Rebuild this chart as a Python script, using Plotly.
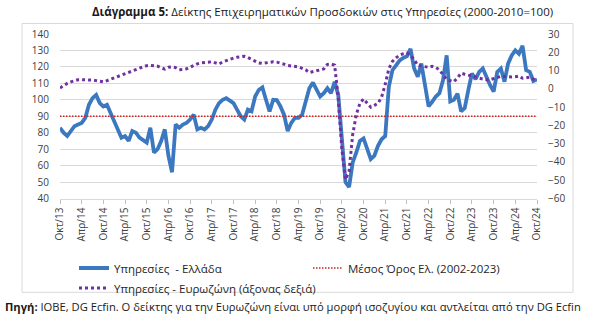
import plotly.graph_objects as go

# ---- data ----
month_abbr = ["Ιαν", "Φεβ", "Μαρ", "Απρ", "Μαϊ", "Ιουν", "Ιουλ", "Αυγ", "Σεπ", "Οκτ", "Νοε", "Δεκ"]
start_year, start_month = 2013, 10   # Oct 2013 .. Oct 2024
n_months = 133

greece = [83, 80, 78, 81, 84, 85, 86, 89, 97, 101,
          103, 98, 96, 97, 92, 88, 83, 77, 78, 75,
          81, 80, 77, 75.5, 74, 83, 68, 70, 75, 82,
          66, 56, 85, 83, 85, 86, 88, 91, 82, 83,
          82, 84, 88, 94, 98, 100, 101, 99.5, 98, 94,
          90, 88, 94, 93, 102, 106, 107.6, 100, 93, 100,
          99.8, 96, 91, 81, 86, 89, 89, 91, 100, 107,
          110.5, 106, 102, 104, 107, 104, 111, 103, 79, 50,
          47, 62, 68, 75, 76.5, 70, 64, 66, 72, 76,
          78, 108, 118, 121, 124, 125.5, 126.5, 131, 119, 114,
          122, 109, 96, 98.8, 102, 104, 112, 127, 99, 100,
          103.7, 93, 95, 106, 116, 112.5, 117, 119, 113.5, 109,
          105, 117, 119, 111, 122, 127, 130, 128, 132.8, 118,
          117, 111.5, 112.4]

eurozone = [0.5, 2, 3, 3.8, 4.5, 5, 5, 5, 5, 4.8,
            4.5, 4, 3.8, 4.5, 5.2, 6, 6.7, 7.5, 8.2, 9,
            9.5, 10.5, 11.3, 12.2, 12.7, 12.8, 12.8, 12.4, 11.5, 10.8,
            11.8, 12, 11.6, 10.5, 10.6, 10.9, 11.8, 12.8, 13.7, 14.2,
            14.4, 14.6, 14.8, 14.2, 13.6, 14.7, 15.5, 16.3, 16.8, 17.3,
            17.7, 17.8, 17.1, 16, 15, 14.2, 13.9, 14.2, 14.5, 14.8,
            14.6, 14.2, 13.5, 12.8, 12.6, 12.4, 12, 11.2, 10.4, 8.9,
            9.3, 9.8, 10.3, 10.9, 13.4, 13.6, 13, -5, -33, -49.5,
            -45, -25, -14, -7.9, -5.5, -8, -10, -9, -7.9, -4.5,
            2.5, 11, 15, 17, 18.5, 19.2, 19.6, 18.3, 16.1, 12.8,
            12.6, 12.3, 11.8, 12.3, 11.8, 10.3, 7.5, 5.2, 4.5, 3.9,
            6, 8.6, 8, 7.5, 7.3, 6.5, 5.8, 5.2, 5, 5,
            5.5, 6.1, 6.8, 6.8, 6.5, 6.5, 6.6, 7, 5.8, 6,
            6.4, 5.2, 4.9]

greek_mean = 90  # Μέσος Όρος Ελ. (2002-2023)

left_ticks = [40, 50, 60, 70, 80, 90, 100, 110, 120, 130, 140]
right_ticks = [-60, -50, -40, -30, -20, -10, 0, 10, 20, 30]

# category labels
categories = []
for i in range(n_months):
    mi = (start_month - 1 + i) % 12
    yr = start_year + (start_month - 1 + i) // 12
    categories.append(f"{month_abbr[mi]}/{yr % 100:02d}")
tick_labels = categories[::6]

FONT = "Open Sans"

fig = go.Figure()
fig.add_trace(go.Scatter(
    x=categories, y=greece, mode="lines", name="Υπηρεσίες  - Ελλάδα",
    line=dict(color="#3B78C0", width=3.8), legend="legend"))
fig.add_trace(go.Scatter(
    x=categories, y=[greek_mean] * n_months, mode="lines",
    name="Μέσος Όρος Ελ. (2002-2023)",
    line=dict(color="#D02020", width=1.5, dash="1.5px,1.5px"), legend="legend"))
fig.add_trace(go.Scatter(
    x=categories, y=eurozone, mode="lines", name="Υπηρεσίες - Ευρωζώνη (άξονας δεξιά)",
    line=dict(color="#7030A0", width=3, dash="dot"), yaxis="y2", legend="legend2"))

L, R, T, B = 60, 63, 34, 129
W, H = 600, 335
pw, ph = W - L - R, H - T - B

def px_x(p):
    return (p - L) / pw

def px_y(p):
    return (H - B - p) / ph

fig.update_layout(
    width=W, height=H,
    margin=dict(l=L, r=R, t=T, b=B, pad=0),
    paper_bgcolor="white", plot_bgcolor="white",
    font=dict(family=FONT, size=10, color="#404040"),
    showlegend=True,
    xaxis=dict(
        type="category", range=[0, n_months - 1],
        tickmode="array", tickvals=tick_labels, ticktext=tick_labels,
        tickangle=-90, tickfont=dict(size=10, color="#404040"),
        ticks="outside", ticklen=4, tickcolor="#BFBFBF",
        showgrid=False, showline=True, linecolor="#D9D9D9", linewidth=1,
        zeroline=False),
    yaxis=dict(
        range=[40, 140], tickvals=left_ticks,
        tickfont=dict(size=10, color="#404040"),
        showgrid=True, gridcolor="#D9D9D9", gridwidth=1,
        ticks="outside", ticklen=8, tickcolor="rgba(0,0,0,0)",
        zeroline=False, showline=False),
    yaxis2=dict(
        range=[-60, 30], tickvals=right_ticks, overlaying="y", side="right",
        tickfont=dict(size=10, color="#404040"),
        showgrid=False, zeroline=False, showline=False,
        ticks="outside", ticklen=8, tickcolor="rgba(0,0,0,0)"),
    legend=dict(
        orientation="h", xref="container", yref="container",
        x=74 / W, y=1 - 268 / H, xanchor="left", yanchor="middle",
        entrywidth=189, entrywidthmode="pixels", itemwidth=30,
        font=dict(size=11.5, color="#262626"), bgcolor="rgba(0,0,0,0)",
        traceorder="normal"),
    legend2=dict(
        orientation="h", xref="container", yref="container",
        x=74 / W, y=1 - 288 / H, xanchor="left", yanchor="middle",
        itemwidth=30,
        font=dict(size=11.5, color="#262626"), bgcolor="rgba(0,0,0,0)"),
    shapes=[dict(
        type="rect", xref="paper", yref="paper",
        x0=px_x(22), x1=px_x(573), y0=px_y(304), y1=px_y(23),
        line=dict(color="#D9D9D9", width=1), fillcolor="rgba(0,0,0,0)", layer="below")],
    annotations=[
        dict(text="<b>Διάγραμμα 5:</b> Δείκτης Επιχειρηματικών Προσδοκιών στις Υπηρεσίες (2000-2010=100)",
             xref="paper", yref="paper", x=px_x(322), y=px_y(11),
             xanchor="center", yanchor="middle", showarrow=False,
             font=dict(size=11.5, color="#1a1a1a")),
        dict(text="<b>Πηγή:</b> ΙΟΒΕ, DG Ecfin. Ο δείκτης για την Ευρωζώνη είναι υπό μορφή ισοζυγίου και αντλείται από την DG Ecfin",
             xref="paper", yref="paper", x=px_x(3), y=px_y(319),
             xanchor="left", yanchor="middle", showarrow=False,
             font=dict(size=11.2, color="#1a1a1a")),
    ],
)

fig.write_html("out.html")
